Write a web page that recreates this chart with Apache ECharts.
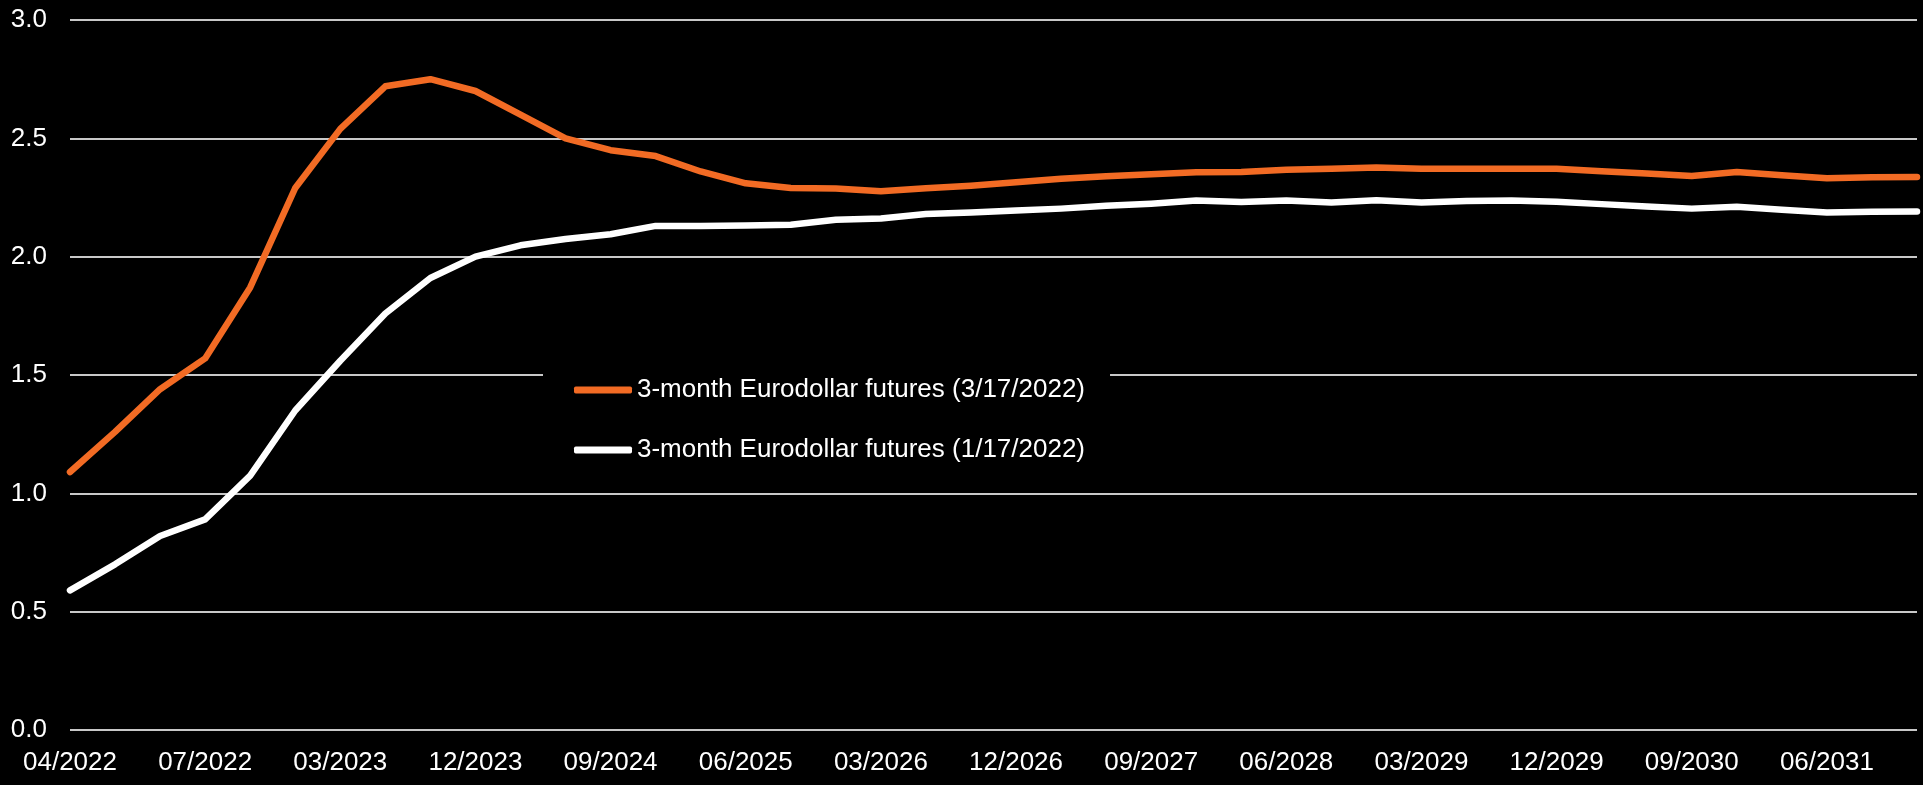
<!DOCTYPE html>
<html>
<head>
<meta charset="utf-8">
<script src="https://cdn.jsdelivr.net/npm/echarts@6/dist/echarts.min.js"></script>
<style>
  html, body { margin: 0; padding: 0; background: #000; }
  #chart { width: 1923px; height: 785px; }
</style>
</head>
<body>
<div id="chart"></div>
<script>
// Contract months of the 3-month Eurodollar futures strip
const months = [
  '04/2022', '05/2022', '06/2022', '07/2022', '09/2022', '12/2022',
  '03/2023', '06/2023', '09/2023', '12/2023',
  '03/2024', '06/2024', '09/2024', '12/2024',
  '03/2025', '06/2025', '09/2025', '12/2025',
  '03/2026', '06/2026', '09/2026', '12/2026',
  '03/2027', '06/2027', '09/2027', '12/2027',
  '03/2028', '06/2028', '09/2028', '12/2028',
  '03/2029', '06/2029', '09/2029', '12/2029',
  '03/2030', '06/2030', '09/2030', '12/2030',
  '03/2031', '06/2031', '09/2031', '12/2031'
];

// Implied rates (%) priced on 3/17/2022
const march17 = [
  1.09, 1.26, 1.44, 1.57, 1.87, 2.29, 2.54, 2.72, 2.75, 2.70, 2.60, 2.50,
  2.45, 2.425, 2.36, 2.31, 2.29, 2.288, 2.276, 2.289, 2.30, 2.314, 2.329,
  2.34, 2.348, 2.357, 2.358, 2.367, 2.372, 2.377,
  2.372, 2.372, 2.372, 2.371, 2.361, 2.351, 2.341, 2.358, 2.344, 2.331, 2.336, 2.337
];

// Implied rates (%) priced on 1/17/2022
const jan17 = [
  0.59, 0.70, 0.82, 0.89, 1.075, 1.35, 1.56, 1.76, 1.91, 2.00, 2.048, 2.075,
  2.095, 2.13, 2.13, 2.132, 2.135, 2.156, 2.161, 2.18, 2.187, 2.195, 2.203,
  2.215, 2.224, 2.237, 2.231, 2.237, 2.229, 2.238,
  2.229, 2.235, 2.237, 2.232, 2.222, 2.212, 2.203, 2.211, 2.198, 2.187, 2.19, 2.191
];

const seriesNames = [
  '3-month Eurodollar futures (3/17/2022)',
  '3-month Eurodollar futures (1/17/2022)'
];

const FONT = "'Liberation Sans', Arial, sans-serif";
const chart = echarts.init(document.getElementById('chart'), null, { renderer: 'canvas' });

chart.setOption({
  backgroundColor: '#000000',
  animation: false,
  textStyle: { fontFamily: FONT },
  grid: { left: 70, right: 6, top: 20, bottom: 55, containLabel: false },
  legend: {
    orient: 'vertical',
    left: 543,
    top: 362,
    padding: [15, 25, 15, 31],
    backgroundColor: '#000000',
    itemWidth: 58,
    itemHeight: 7,
    itemGap: 34,
    icon: 'roundRect',
    textStyle: { color: '#ffffff', fontSize: 26, fontFamily: FONT },
    data: seriesNames
  },
  xAxis: {
    type: 'category',
    data: months,
    boundaryGap: false,
    axisLine: { show: false },
    axisTick: { show: false },
    axisLabel: {
      interval: 2,
      color: '#ffffff',
      fontSize: 26,
      fontFamily: FONT,
      margin: 20
    },
    splitLine: { show: false }
  },
  yAxis: {
    type: 'value',
    min: 0,
    max: 3,
    interval: 0.5,
    axisLine: { show: false },
    axisTick: { show: false },
    axisLabel: {
      color: '#ffffff',
      fontSize: 26,
      fontFamily: FONT,
      margin: 23,
      formatter: v => v.toFixed(1)
    },
    splitLine: { lineStyle: { color: '#c8c8c8', width: 2 } }
  },
  series: [
    {
      name: seriesNames[0],
      type: 'line',
      data: march17,
      symbol: 'none',
      color: '#f26b24',
      lineStyle: { width: 6.5, color: '#f26b24', cap: 'round', join: 'round' },
      z: 3
    },
    {
      name: seriesNames[1],
      type: 'line',
      data: jan17,
      symbol: 'none',
      color: '#ffffff',
      lineStyle: { width: 6.5, color: '#ffffff', cap: 'round', join: 'round' },
      z: 2
    }
  ]
});
</script>
</body>
</html>
